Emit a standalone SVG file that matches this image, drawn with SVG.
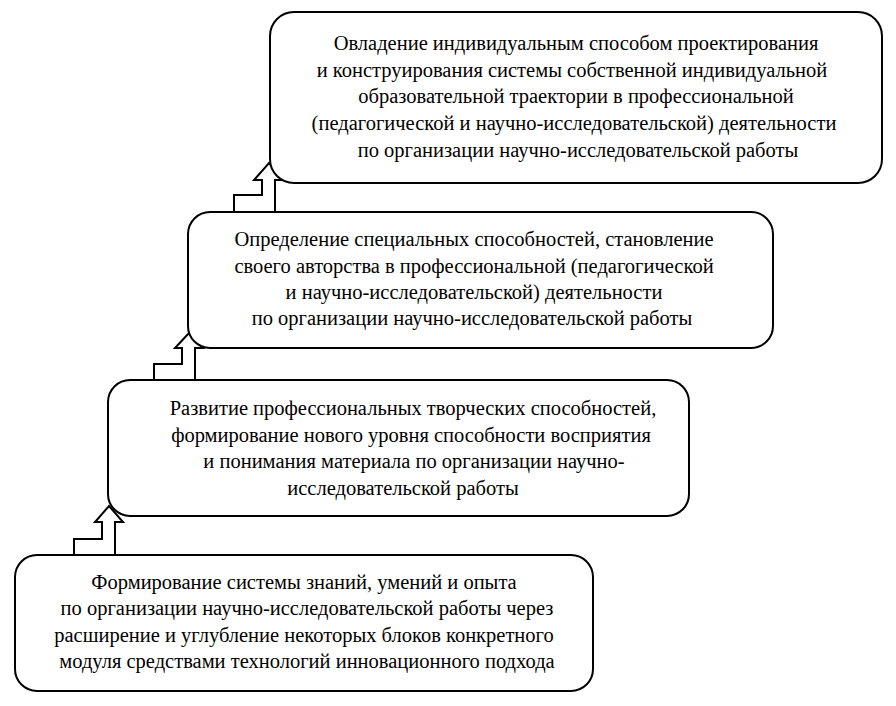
<svg xmlns="http://www.w3.org/2000/svg" width="896" height="706" viewBox="0 0 896 706">
<style>
.box{fill:#fff;stroke:#000;stroke-width:2}
.arr{fill:none;stroke:#000;stroke-width:2;stroke-linejoin:miter}
.t{font-size:20.5px;fill:#000;text-anchor:middle}
</style>
<rect width="896" height="706" fill="#fff"/>
<g id="connectors">
<polyline class="arr" points="234,212 234,195 262,195 262,180 254,180 269,163 283,180 275,180 275,212"/>
<polyline class="arr" points="154,380 154,364 182,364 182,348 175,348 189,333 203,348 195,348 195,380"/>
<polyline class="arr" points="74,555 74,539 102,539 102,522 95,522 109,506 123,522 115,522 115,555"/>
</g>
<g id="node1" style="font-family:'Liberation Serif'">
<rect class="box" x="270" y="12" width="612" height="171" rx="24"/>
<text class="t" x="576" y="49.5">Овладение индивидуальным способом проектирования</text>
<text class="t" x="572" y="76.5">и конструирования системы собственной индивидуальной</text>
<text class="t" x="576" y="103">образовательной траектории в профессиональной</text>
<text class="t" x="574" y="129.5">(педагогической и научно-исследовательской) деятельности</text>
<text class="t" x="578" y="156.5">по организации научно-исследовательской работы</text>
</g>
<g id="node2" style="font-family:'Liberation Serif'">
<rect class="box" x="188" y="212" width="585" height="136" rx="22"/>
<text class="t" x="474" y="245.5">Определение специальных способностей, становление</text>
<text class="t" x="474" y="272.5">своего авторства в профессиональной (педагогической</text>
<text class="t" x="474" y="298.5">и научно-исследовательской) деятельности</text>
<text class="t" x="472" y="325">по организации научно-исследовательской работы</text>
</g>
<g id="node3" style="font-family:'Liberation Serif'">
<rect class="box" x="108" y="380" width="581" height="136" rx="22"/>
<text class="t" x="413" y="415">Развитие профессиональных творческих способностей,</text>
<text class="t" x="411" y="441.5">формирование нового уровня способности восприятия</text>
<text class="t" x="414" y="468">и понимания материала по организации научно-</text>
<text class="t" x="403" y="494.5">исследовательской работы</text>
</g>
<g id="node4" style="font-family:'Liberation Serif'">
<rect class="box" x="15" y="555" width="578" height="136" rx="22"/>
<text class="t" x="304" y="588.5">Формирование системы знаний, умений и опыта</text>
<text class="t" x="307" y="615">по организации научно-исследовательской  работы через</text>
<text class="t" x="304" y="641.5">расширение и углубление некоторых блоков конкретного</text>
<text class="t" x="307" y="667.5">модуля средствами технологий инновационного подхода</text>
</g>
</svg>
